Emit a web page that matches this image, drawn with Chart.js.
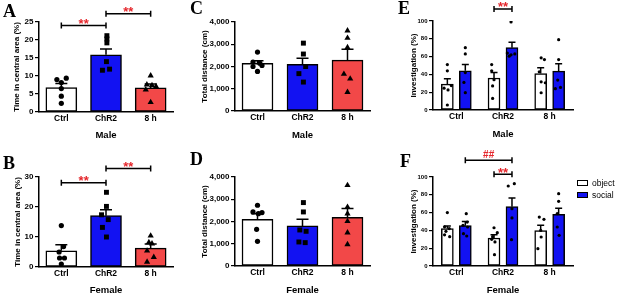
<!DOCTYPE html>
<html><head><meta charset="utf-8">
<script src="https://cdn.jsdelivr.net/npm/chart.js@4.4.0/dist/chart.umd.min.js"></script>
<style>
html,body{margin:0;padding:0;background:#fff;width:617px;height:295px;overflow:hidden;position:relative}
canvas{position:absolute;left:0;top:0}
.letter{position:absolute;font-family:"Liberation Serif","DejaVu Serif",serif;font-weight:bold;font-size:18px;line-height:1;color:#000}
.legbox{position:absolute;width:11px;height:6px;border:1.5px solid #000;box-sizing:border-box}
.legtxt{position:absolute;font-family:"Liberation Sans",Arial,sans-serif;font-size:8.5px;line-height:10px;color:#000}
</style></head><body>
<script>
// ---------- data ----------
const categories = ['Ctrl', 'ChR2', '8 h'];
const sexLabels = ['Male', 'Female'];
const groupLabels = ['object', 'social'];
const panelLetters = ['A', 'B', 'C', 'D', 'E', 'F'];

const ticksCentral25 = [0, 5, 10, 15, 20, 25];
const ticksCentral30 = [0, 10, 20, 30];
const ticksDistance = [0, 1000, 2000, 3000, 4000];
const ticksInvestigation = [0, 20, 40, 60, 80, 100];

// A: time in central area, male
const centralMaleMean = [6.8, 15.9, 6.7];
const centralMaleSem = [1.1, 1.6, 1.1];
const centralMalePts = [[9.0, 9.4, 8.2, 6.5, 4.4, 2.4], [21.2, 20.3, 19.2, 14.0, 11.6, 11.9], [10.1, 7.6, 7.4, 7.1, 6.2, 2.7]];
const centralMaleJit = [[-0.1, 0.11, 0.0, 0.0, 0.0, 0.0], [0.02, 0.02, 0.02, 0.01, -0.08, 0.08], [0.0, -0.085, 0.03, 0.12, -0.11, 0.0]];
// B: time in central area, female
const centralFemaleMean = [5.4, 17.1, 6.3];
const centralFemaleSem = [2.0, 2.0, 1.4];
const centralFemalePts = [[13.8, 6.8, 5.0, 3.0, 3.0, 1.0], [24.9, 20.2, 17.4, 15.8, 13.2, 10.0], [10.4, 8.2, 7.8, 5.4, 3.3, 1.7]];
const centralFemaleJit = [[0.0, 0.05, -0.05, -0.04, 0.07, 0.0], [0.01, 0.01, -0.1, 0.05, -0.08, 0.01], [0.0, -0.04, 0.03, -0.08, 0.07, -0.08]];
// C: total distance, male
const distMaleMean = [2140, 2100, 2290];
const distMaleSem = [120, 270, 480];
const distMalePts = [[2650, 2200, 2150, 2050, 2000, 1780], [3050, 2560, 2000, 1680, 1300], [3610, 3280, 2860, 1660, 1450, 850]];
const distMaleJit = [[0.0, -0.1, 0.05, 0.1, -0.1, 0.0], [0.02, 0.02, 0.07, -0.08, 0.02], [0.0, 0.0, 0.0, -0.08, 0.06, 0.0]];
// D: total distance, female
const distFemaleMean = [2100, 1800, 2190];
const distFemaleSem = [250, 300, 390];
const distFemalePts = [[2730, 2430, 2400, 2350, 1650, 1110], [2850, 2430, 1620, 1560, 1080, 1050], [3630, 2650, 2350, 2010, 1500, 970]];
const distFemaleJit = [[0.0, -0.1, 0.1, 0.02, -0.02, 0.0], [0.02, 0.02, -0.06, 0.08, -0.08, 0.06], [0.0, 0.0, 0.0, 0.0, 0.0, 0.0]];
// E: investigation, male
const invMaleObjMean = [29, 36, 41];
const invMaleObjSem = [6, 6, 6.4];
const invMaleObjPts = [[51, 44, 27.5, 24.5, 22.6, 5.6], [51, 44, 34, 27, 13], [58.6, 56.7, 43, 31.7, 30.6, 19.4]];
const invMaleObjJit = [[0.0, 0.0, 0.085, -0.07, 0.015, 0.0], [-0.05, -0.05, 0.0, -0.03, -0.03], [0.01, 0.08, -0.03, 0.01, 0.1, 0.01]];
const invMaleSocMean = [44, 70, 43.7];
const invMaleSocSem = [7, 6, 8.3];
const invMaleSocPts = [[70, 63, 42, 31, 19.5], [99, 64, 62, 63, 60.5], [79, 56.7, 33.6, 24, 25.4]];
const invMaleSocJit = [[0.0, 0.0, 0.0, -0.03, 0.0], [-0.02, -0.1, -0.02, 0.06, -0.06], [0.0, 0.0, -0.02, -0.07, 0.04]];
// F: investigation, female
const invFemaleObjMean = [42, 31.5, 39.7];
const invFemaleObjSem = [3, 3.7, 6];
const invFemaleObjPts = [[60, 44, 42, 39, 35, 33], [43, 37.5, 33, 30, 27, 12.7], [55, 52.4, 40, 32.6, 19.5]];
const invFemaleObjJit = [[0.0, -0.06, 0.04, -0.03, -0.06, 0.05], [0.0, 0.07, -0.03, -0.05, 0.02, 0.01], [-0.03, 0.07, 0.0, 0.01, -0.06]];
const invFemaleSocMean = [45.3, 66.7, 58];
const invFemaleSocSem = [4.7, 9.7, 7];
const invFemaleSocPts = [[58.8, 49.4, 45.7, 43.8, 36.3, 33.7], [92.5, 89.9, 64.4, 54, 29.6], [81.3, 72.7, 58.8, 43.8, 34.5]];
const invFemaleSocJit = [[0.02, 0.04, -0.05, 0.05, -0.04, 0.03], [0.05, -0.08, 0.0, 0.0, -0.01], [0.0, 0.0, -0.03, -0.03, 0.01]];

// ---------- style ----------
const FONT = '"Liberation Sans", Arial, sans-serif';
const WHITE = '#ffffff', BLUE = '#1212f2', RED = '#f24848', SIGRED = '#e5262b';
const W = 617, H = 320;

const errPlugin = {
  id: 'errbars',
  afterDatasetsDraw(chart) {
    const ctx = chart.ctx, ys = chart.scales.y;
    chart.data.datasets.forEach((ds, di) => {
      if (!ds.sem) return;
      chart.getDatasetMeta(di).data.forEach((el, i) => {
        const d = ds.data[i];
        const v = typeof d === 'object' ? d.y : d;
        const top = ys.getPixelForValue(v + ds.sem[i]);
        const c = ds.capWidth / 2;
        ctx.save();
        ctx.strokeStyle = '#000'; ctx.lineWidth = 1.5;
        ctx.beginPath();
        ctx.moveTo(el.x, el.y); ctx.lineTo(el.x, top);
        ctx.moveTo(el.x - c, top); ctx.lineTo(el.x + c, top);
        ctx.stroke(); ctx.restore();
      });
    });
  }
};
const bracketPlugin = {
  id: 'brackets',
  afterDraw(chart, args, opts) {
    const items = opts.items || [];
    const ctx = chart.ctx, ys = chart.scales.y;
    items.forEach(b => {
      const xa = chart.getDatasetMeta(b.from[0]).data[b.from[1]].x;
      const xb = chart.getDatasetMeta(b.to[0]).data[b.to[1]].x;
      const y = ys.getPixelForValue(b.value);
      ctx.save();
      ctx.strokeStyle = '#000'; ctx.lineWidth = 1.5;
      ctx.beginPath();
      ctx.moveTo(xa, y); ctx.lineTo(xb, y);
      ctx.moveTo(xa, y - 3); ctx.lineTo(xa, y + 3);
      ctx.moveTo(xb, y - 3); ctx.lineTo(xb, y + 3);
      ctx.stroke();
      const star = b.text.indexOf('*') >= 0;
      const size = star ? 13 : 10;
      ctx.fillStyle = SIGRED;
      ctx.font = 'bold ' + size + 'px ' + FONT;
      ctx.textAlign = 'center'; ctx.textBaseline = 'alphabetic';
      ctx.fillText(b.text, (xa + xb) / 2, star ? y + 2.5 : y - 2);
      ctx.restore();
    });
  }
};
Chart.register(errPlugin, bracketPlugin);

function buildPanel(p) {
  const canvas = document.createElement('canvas');
  canvas.width = W; canvas.height = H;
  document.body.appendChild(canvas);
  const n = p.series.length;
  const groupWidth = 0.77;
  const offsets = p.series.map((s, si) => n === 1 ? 0 : (si - (n - 1) / 2) * groupWidth / n);
  const datasets = [];
  p.series.forEach((s, si) => {
    datasets.push({
      type: 'bar', label: s.label, data: s.mean.map((v, i) => ({x: i + offsets[si], y: v})), sem: s.sem, capWidth: p.cap,
      backgroundColor: s.color, borderColor: '#000', borderWidth: 1.5, borderSkipped: false,
      grouped: false, barThickness: p.barW, xAxisID: 'xj', yAxisID: 'y', order: 2
    });
  });
  p.series.forEach((s, si) => {
    s.pts.forEach((arr, ci) => {
      const style = p.markers[ci];
      datasets.push({
        type: 'scatter', data: arr.map((v, k) => ({x: ci + offsets[si] + s.jit[ci][k], y: v})),
        pointStyle: style, pointRadius: p.radius[style], pointHoverRadius: p.radius[style],
        backgroundColor: '#000', borderColor: '#000', borderWidth: 0,
        xAxisID: 'xj', yAxisID: 'y', order: 1
      });
    });
  });
  const a = p.area;
  const yLH = 8 * 1.2, xLH = 9.5 * 1.2;
  new Chart(canvas, {
    data: {labels: categories, datasets},
    options: {
      responsive: false, animation: false, devicePixelRatio: 1,
      events: [],
      layout: {padding: {left: a.left - p.yw, top: a.top, right: W - a.right, bottom: H - a.bottom - p.xh}},
      plugins: {legend: {display: false}, tooltip: {enabled: false}, brackets: {items: p.brackets}},
      scales: {
        x: {
          type: 'category', offset: true, labels: categories,
          grid: {display: false, drawTicks: false},
          border: {display: true, color: '#000', width: 1.5},
          ticks: {color: '#000', font: {family: FONT, size: 8.5, weight: 'bold'}, padding: 2, maxRotation: 0, autoSkip: false},
          title: {display: true, text: p.xTitle, color: '#000', font: {family: FONT, size: 9.5, weight: 'bold', lineHeight: 1.2},
                  padding: {top: 0, bottom: a.bottom + p.xh - p.xTitleY - xLH / 2}},
          afterFit(s) { s.height = p.xh; }
        },
        xj: {type: 'linear', min: -0.5, max: 2.5, offset: false, grace: 0, bounds: 'ticks', display: false,
             grid: {offset: false},
             afterDataLimits(s) { s.min = -0.5; s.max = 2.5; }},
        y: {
          min: 0, max: p.yTicks[p.yTicks.length - 1],
          afterBuildTicks(s) { s.ticks = p.yTicks.map(v => ({value: v})); },
          grid: {display: true, drawOnChartArea: false, drawTicks: true, tickLength: 4, color: '#000', lineWidth: 1.2},
          border: {display: true, color: '#000', width: 1.5},
          ticks: {color: '#000', font: {family: FONT, size: p.yTickSize, weight: 'bold'}, padding: 1.5},
          title: {display: true, text: p.yTitle, color: '#000', font: {family: FONT, size: 8, weight: 'bold', lineHeight: 1.2},
                  padding: {top: p.yTitleX - (a.left - p.yw) - yLH / 2, bottom: 0}},
          afterFit(s) { s.width = p.yw; }
        }
      }
    }
  });
}

const rowMarkers = ['circle', 'rect', 'triangle'];
const bigRadius = {circle: 2.6, rect: 3.5, triangle: 3.6};
const smallRadius = {circle: 1.6};
const dotMarkers = ['circle', 'circle', 'circle'];

buildPanel({area: {left: 39, right: 173, top: 22, bottom: 112}, yw: 39, xh: 30, xTitleY: 135, yTitleX: 17,
  yTicks: ticksCentral25, yTickSize: 8, yTitle: 'Time in central area (%)', xTitle: sexLabels[0], cap: 12, barW: 31,
  markers: rowMarkers, radius: bigRadius,
  series: [{label: 'A', mean: centralMaleMean, sem: centralMaleSem, pts: centralMalePts, jit: centralMaleJit, color: [WHITE, BLUE, RED]}],
  brackets: [{from: [0, 0], to: [0, 1], value: 24.0, text: '**'}, {from: [0, 1], to: [0, 2], value: 27.3, text: '**'}]});
buildPanel({area: {left: 39, right: 173, top: 177, bottom: 267}, yw: 39, xh: 30, xTitleY: 290.5, yTitleX: 17.5,
  yTicks: ticksCentral30, yTickSize: 8, yTitle: 'Time in central area (%)', xTitle: sexLabels[1], cap: 12, barW: 31,
  markers: rowMarkers, radius: bigRadius,
  series: [{label: 'B', mean: centralFemaleMean, sem: centralFemaleSem, pts: centralFemalePts, jit: centralFemaleJit, color: [WHITE, BLUE, RED]}],
  brackets: [{from: [0, 0], to: [0, 1], value: 28.1, text: '**'}, {from: [0, 1], to: [0, 2], value: 32.8, text: '**'}]});
buildPanel({area: {left: 235, right: 370, top: 22, bottom: 111}, yw: 40, xh: 30, xTitleY: 135, yTitleX: 205,
  yTicks: ticksDistance, yTickSize: 8, yTitle: 'Total distance (cm)', xTitle: sexLabels[0], cap: 12, barW: 31,
  markers: rowMarkers, radius: bigRadius,
  series: [{label: 'C', mean: distMaleMean, sem: distMaleSem, pts: distMalePts, jit: distMaleJit, color: [WHITE, BLUE, RED]}],
  brackets: []});
buildPanel({area: {left: 235, right: 370, top: 177, bottom: 266}, yw: 40, xh: 30, xTitleY: 290.5, yTitleX: 205,
  yTicks: ticksDistance, yTickSize: 8, yTitle: 'Total distance (cm)', xTitle: sexLabels[1], cap: 12, barW: 31,
  markers: rowMarkers, radius: bigRadius,
  series: [{label: 'D', mean: distFemaleMean, sem: distFemaleSem, pts: distFemalePts, jit: distFemaleJit, color: [WHITE, BLUE, RED]}],
  brackets: []});
buildPanel({area: {left: 433, right: 573, top: 21, bottom: 110}, yw: 33, xh: 30, xTitleY: 134.5, yTitleX: 413.5,
  yTicks: ticksInvestigation, yTickSize: 6, yTitle: 'Investigation (%)', xTitle: sexLabels[0], cap: 7, barW: 12,
  markers: dotMarkers, radius: smallRadius,
  series: [{label: groupLabels[0], mean: invMaleObjMean, sem: invMaleObjSem, pts: invMaleObjPts, jit: invMaleObjJit, color: WHITE},
           {label: groupLabels[1], mean: invMaleSocMean, sem: invMaleSocSem, pts: invMaleSocPts, jit: invMaleSocJit, color: BLUE}],
  brackets: [{from: [0, 1], to: [1, 1], value: 113.5, text: '**'}]});
buildPanel({area: {left: 433, right: 573, top: 177, bottom: 266}, yw: 33, xh: 30, xTitleY: 290.5, yTitleX: 413.5,
  yTicks: ticksInvestigation, yTickSize: 6, yTitle: 'Investigation (%)', xTitle: sexLabels[1], cap: 7, barW: 12,
  markers: dotMarkers, radius: smallRadius,
  series: [{label: groupLabels[0], mean: invFemaleObjMean, sem: invFemaleObjSem, pts: invFemaleObjPts, jit: invFemaleObjJit, color: WHITE},
           {label: groupLabels[1], mean: invFemaleSocMean, sem: invFemaleSocSem, pts: invFemaleSocPts, jit: invFemaleSocJit, color: BLUE}],
  brackets: [{from: [1, 0], to: [1, 1], value: 118.8, text: '##'}, {from: [0, 1], to: [1, 1], value: 103, text: '**'}]});

// panel letters
const letterPos = [[3, 2], [3, 154], [190, -1], [190, 150], [398, -1], [400, 152]];
panelLetters.forEach((t, i) => {
  const d = document.createElement('div');
  d.className = 'letter'; d.textContent = t;
  d.style.left = letterPos[i][0] + 'px'; d.style.top = letterPos[i][1] + 'px';
  document.body.appendChild(d);
});
// legend for F
[WHITE, BLUE].forEach((c, i) => {
  const b = document.createElement('div');
  b.className = 'legbox'; b.style.background = c;
  b.style.left = '577px'; b.style.top = (180 + i * 12) + 'px';
  document.body.appendChild(b);
  const t = document.createElement('div');
  t.className = 'legtxt'; t.textContent = groupLabels[i];
  t.style.left = '592px'; t.style.top = (178 + i * 12) + 'px';
  document.body.appendChild(t);
});
</script>
</body></html>
